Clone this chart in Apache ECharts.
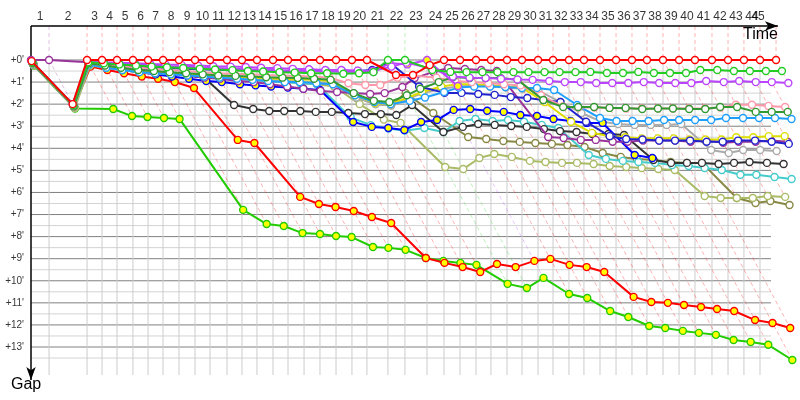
<!DOCTYPE html>
<html><head><meta charset="utf-8">
<script src="https://cdn.jsdelivr.net/npm/echarts@6/dist/echarts.min.js"></script>
<style>html,body{margin:0;padding:0;background:#fff}#c{width:800px;height:400px}</style>
</head><body><div id="c"></div>
<script>
// Leader's elapsed time (minutes) at the end of each lap, lap 0 = start
const lapTimes = [0,1.53,4.75,6.02,7.29,8.64,9.92,11.19,12.54,13.90,15.17,16.61,17.88,19.15,20.51,21.78,23.14,24.49,25.85,27.20,28.47,30.25,31.69,33.56,35.00,36.36,37.71,38.98,40.34,41.61,42.97,44.24,45.59,46.86,48.22,49.58,50.93,52.20,53.56,54.92,56.27,57.71,59.07,60.42,61.78,63.14];
const lapLabels = ['1','2','3','4','5','6','7','8','9','10','11','12','13','14','15','16','17','18','19','20','21','22','23','24','25','26','27','28','29','30','31','32','33','34','35','36','37','38','39','40','41','42','43','44','45'];
const yTicks = [0,1,2,3,4,5,6,7,8,9,10,11,12,13];
const yMinorTicks = [0.5,1.5,2.5,3.5,4.5,5.5,6.5,7.5,8.5,9.5,10.5,11.5,12.5,13.5];
const yTickLabels = yTicks.map(v => "+" + v + "'");

// Gap to leader (minutes) per lap, index = lap number (0 = start)
const gapRed = [0.05,2.0,0,0,0,0,0,0,0,0,0,0,0,0,0,0,0,0,0,0,0,0.68,0.68,0.23,0,0,0,0,0,0,0,0,0,0,0,0,0,0,0,0,0,0,0,0,0,0];
const gapGreen = [0.1,2.05,0.1,0.15,0.2,0.25,0.3,0.33,0.36,0.4,0.43,0.46,0.5,0.52,0.55,0.57,0.6,0.6,0.62,0.6,0.55,0,0,0.45,0.54,0.55,0.55,0.55,0.55,0.55,0.55,0.55,0.55,0.54,0.59,0.59,0.54,0.59,0.59,0.59,0.45,0.45,0.5,0.5,0.5,0.5];
const gapViolet = [0.04,2.0,0.05,0.1,0.12,0.15,0.18,0.2,0.22,0.25,0.28,0.3,0.32,0.35,0.37,0.4,0.42,0.45,0.45,0.48,0.5,0.3,0.12,0.4,0.75,0.8,0.82,0.85,0.88,0.9,0.95,1.0,1.0,1.04,1.04,1.04,1.0,1.04,1.04,1.04,0.95,1.0,0.95,1.0,1.0,1.04];
const gapViolet2 = [0.08,2.05,0.08,0.12,0.16,0.2,0.24,0.28,0.3,0.33,0.36,0.4,0.42,0.45,0.47,0.5,0.5,0.52,0.53,0.54,0.55,0.14,0.2,0,1.18];
const gapPink = [0.15,2.1,0.15,0.25,0.3,0.35,0.4,0.45,0.5,0.55,0.6,0.62,0.65,0.68,0.7,0.72,0.75,0.8,1.05,1.13,1.13,0.8,0.7,0.8,0.95,1.0,1.05,1.1,1.15,1.6,2.1,2.15,2.15,2.17,2.2,2.2,2.2,2.2,2.2,2.2,2.15,2.03,2.03,2.08,2.13];
const gapDarkGreen = [0.14,2.1,0.15,0.25,0.35,0.45,0.5,0.55,0.6,0.65,0.7,0.72,0.75,0.78,0.8,0.82,0.85,0.9,1.5,1.85,1.9,1.6,1.3,1.0,0.77,0.82,0.82,0.82,0.9,1.81,2.13,2.13,2.13,2.17,2.17,2.22,2.2,2.2,2.22,2.22,2.13,2.13,2.35,2.35,2.35];
const gapLightBlue = [0.16,2.1,0.2,0.35,0.45,0.55,0.6,0.65,0.7,0.75,0.8,0.85,0.9,0.95,1.0,1.0,1.05,1.1,1.6,1.9,2.0,1.85,1.7,1.45,1.25,1.2,1.2,1.22,1.27,1.27,1.36,2.04,2.63,2.76,2.76,2.76,2.72,2.72,2.72,2.72,2.63,2.63,2.63,2.63,2.67];
const gapYellow = [0.18,2.12,0.2,0.3,0.45,0.55,0.6,0.63,0.66,0.68,0.7,0.75,0.8,0.83,0.86,0.88,0.9,0.95,1.6,1.95,2.0,1.7,1.45,1.2,1.1,1.1,1.15,1.2,1.25,1.9,2.8,3.3,3.45,3.5,3.55,3.55,3.55,3.6,3.6,3.6,3.5,3.5,3.45,3.45];
const gapPurple = [0,0,0.1,0.2,0.3,0.4,0.5,0.6,0.7,0.8,0.85,0.95,1.0,1.1,1.2,1.3,1.4,1.45,1.5,1.54,1.5,1.22,0.82,0.54,0.36,0.41,0.45,0.5,3.49,3.53,3.62,3.62,3.7,3.7,3.65,3.65,3.65,3.7,3.65,3.75,3.7,3.7,3.65,3.7];
const gapBlue = [0.12,2.08,0.12,0.2,0.25,0.3,0.33,0.36,0.4,0.42,0.44,0.46,0.47,0.48,0.49,0.5,0.5,0.5,0.5,0.5,0.45,0.09,1.2,1.49,1.49,1.54,1.58,1.68,1.72,1.81,1.9,2.8,3.45,3.58,3.6,3.65,3.65,3.65,3.7,3.7,3.65,3.65,3.7,3.8];
const gapGrey = [0.2,2.15,0.2,0.3,0.4,0.5,0.55,0.6,0.65,0.7,0.75,0.8,0.85,0.9,0.95,1.0,1.05,1.1,1.7,2.0,2.05,1.75,1.5,1.3,1.2,1.15,1.2,1.25,1.3,1.4,1.9,2.4,2.8,2.9,2.94,2.94,2.94,2.9,4.08,4.21,4.08,4.08,4.12];
const gapBlack = [0.15,2.1,0.15,0.3,0.4,0.5,0.55,0.6,0.7,0.8,2.04,2.22,2.31,2.31,2.31,2.35,2.35,2.4,2.45,2.45,2.49,2.04,3.26,3.03,2.9,2.94,2.99,3.03,3.13,3.22,3.26,3.35,3.35,3.4,4.53,4.66,4.66,4.66,4.71,4.66,4.62,4.66,4.71];
const gapCyan = [0.2,2.12,0.2,0.35,0.45,0.55,0.6,0.65,0.7,0.75,0.8,0.85,0.9,0.95,1.0,1.05,1.1,2.6,2.95,3.1,3.2,3.08,3.26,2.76,2.67,2.76,2.72,2.8,2.94,3.08,4.3,4.48,4.57,4.62,4.66,4.76,4.8,4.89,4.98,5.2,5.2,5.3,5.39];
const gapLightOlive = [0.24,2.18,0.25,0.35,0.45,0.55,0.6,0.65,0.7,0.75,0.8,0.85,0.9,0.95,1.0,1.05,1.1,1.2,2.0,2.7,2.85,4.85,4.94,4.44,4.26,4.39,4.57,4.62,4.66,4.66,4.71,4.8,4.85,4.89,4.94,4.98,6.16,6.25,6.25,6.25,6.16,6.2];
const gapOlive = [0.22,2.15,0.2,0.3,0.4,0.5,0.55,0.6,0.65,0.7,0.75,0.8,0.85,0.9,0.95,1.0,1.05,1.1,1.7,2.0,2.05,1.5,2.4,3.49,3.58,3.67,3.71,3.76,3.8,3.85,3.94,4.21,4.39,4.48,4.53,4.62,4.66,4.66,6.25,6.48,6.39,6.57];
const gapBlue2 = [0.18,2.1,0.15,0.3,0.45,0.55,0.65,0.75,0.85,0.95,1.0,1.1,1.15,1.2,1.25,1.3,1.36,2.81,3.03,3.08,3.17,2.81,2.72,2.26,2.22,2.3,2.35,2.49,2.54,2.67,2.76,2.85,2.85,4.3,4.44];
const gapRed2 = [0.2,2.1,0.3,0.45,0.6,0.75,0.85,1.0,1.27,3.62,3.76,6.2,6.52,6.66,6.84,7.11,7.38,8.97,9.19,9.38,9.6,9.24,9.38,9.1,9.01,9.28,9.38,9.6,10.73,10.96,11.0,11.1,11.19,11.28,11.37,11.78,11.91,12.14];
const gapGreen2 = [0.25,2.2,2.22,2.54,2.58,2.63,2.67,6.79,7.43,7.52,7.84,7.88,7.97,8.02,8.47,8.51,8.6,8.97,9.1,9.19,9.28,10.14,10.33,9.87,10.6,10.78,11.37,11.64,12.05,12.14,12.27,12.36,12.45,12.68,12.77,12.9,13.59];

// drawing order: first is at the bottom
const cars = [
  {gaps: gapGreen2, color:'#22cc00', fill:'#ffff00'},
  {gaps: gapRed2, color:'#ff0000', fill:'#ffff00'},
  {gaps: gapOlive, color:'#888844', fill:'#ffffff'},
  {gaps: gapLightOlive, color:'#aabb66', fill:'#ffffff'},
  {gaps: gapCyan, color:'#44cccc', fill:'#ffffff'},
  {gaps: gapBlack, color:'#333333', fill:'#ffffff'},
  {gaps: gapGrey, color:'#aaaaaa', fill:'#ffffff'},
  {gaps: gapBlue2, color:'#0000ff', fill:'#ffff00'},
  {gaps: gapPurple, color:'#993399', fill:'#ffffff'},
  {gaps: gapYellow, color:'#dddd00', fill:'#ffffff'},
  {gaps: gapBlue, color:'#2222cc', fill:'#ffffff'},
  {gaps: gapLightBlue, color:'#1e9fff', fill:'#ffffff'},
  {gaps: gapPink, color:'#ff99aa', fill:'#ffffff'},
  {gaps: gapDarkGreen, color:'#339933', fill:'#ffffff'},
  {gaps: gapViolet2, color:'#bb44ff', fill:'#ffff00'},
  {gaps: gapViolet, color:'#bb44ff', fill:'#ffffff'},
  {gaps: gapGreen, color:'#22cc22', fill:'#ffffff'},
  {gaps: gapRed, color:'#ff0000', fill:'#ffffff'}
];

// scale: grid spans the full width to the right edge; rules stop earlier
const yMin = -1.54, yMax = 14.54, gridYMax = 14.27;
const xMax = 65.17, gridXMax = 62.71, axisXEnd = 63.3;

function fade(hex, a){
  const n = parseInt(hex.slice(1),16);
  return 'rgba(' + (n>>16) + ',' + ((n>>8)&255) + ',' + (n&255) + ',' + a + ')';
}
function seg(p1, p2, style, z){
  return {type:'line', data:[p1,p2], symbol:'none', silent:true, animation:false, z: z, lineStyle: style};
}

const series = [];
// horizontal grid
yMinorTicks.forEach(v => series.push(seg([0,v],[gridXMax,v],{color:'#d4d4d4',width:1},1)));
yTicks.forEach(v => series.push(seg([0,v],[gridXMax,v],{color:'#808080',width:1},1)));

// per-lap lines
for (let k = 1; k < lapTimes.length; k++) {
  let leader = null, lead = Infinity, gmax = 0;
  cars.forEach(c => {
    const g = c.gaps[k];
    if (g === undefined || g === null) return;
    if (g < lead) { lead = g; leader = c; }
    if (g > gmax) gmax = g;
  });
  const T = lapTimes[k];
  if (T <= gridXMax) series.push(seg([T,0],[T,gridYMax],{color:'#cccccc',width:1},1));
  series.push(seg([T,yMin],[T,0],{color:fade(leader.color,0.3),width:1,type:[4,3]},2));
  series.push(seg([T,0],[T+gmax,gmax],{color:fade(leader.color,0.3),width:1,type:[4,3]},2));
}

// cars
cars.forEach((c, i) => {
  series.push({
    type:'line', animation:false, z: 10 + i,
    data: c.gaps.map((g,k) => [lapTimes[k] + g, g]),
    symbol:'circle', symbolSize:7, showAllSymbol:true,
    lineStyle:{color:c.color, width:2},
    itemStyle:{color:c.fill, borderColor:c.color, borderWidth:1.4}
  });
});

// axes with arrows
series.push({
  type:'line', data:[], silent:true, animation:false, z:40,
  markLine:{silent:true, animation:false, symbol:['none','arrow'], symbolSize:[7,13], label:{show:false},
    lineStyle:{color:'#000', width:1.5, type:'solid'},
    data:[
      [{coord:[0,yMin]},{coord:[axisXEnd,yMin]}],
      [{coord:[0,yMin]},{coord:[0,yMax - 0.05]}]
    ]}
});

// lap labels (centered on each lap interval)
series.push({
  type:'scatter', animation:false, silent:true, z:30, symbolSize:0,
  data: lapLabels.map((lab,i) => [Math.min((lapTimes[i] + lapTimes[i+1]) / 2, gridXMax - 1.1), yMin]),
  label:{show:true, position:'top', distance:3, color:'#000', fontFamily:'Liberation Sans', fontSize:12,
    formatter: p => lapLabels[p.dataIndex]}
});
// gap tick labels
series.push({
  type:'scatter', animation:false, silent:true, z:30, symbolSize:0,
  data: yTicks.map(v => [0, v]),
  label:{show:true, position:'left', distance:7, color:'#000', fontFamily:'Liberation Sans', fontSize:10,
    formatter: p => yTickLabels[p.dataIndex]}
});

const chart = echarts.init(document.getElementById('c'), null, {renderer:'canvas'});
chart.setOption({
  animation:false,
  backgroundColor:'#ffffff',
  grid:{left:31, right:0, top:26, bottom:19, containLabel:false},
  xAxis:{type:'value', min:0, max:xMax, show:true,
    axisLine:{show:false}, axisTick:{show:false}, axisLabel:{show:false}, splitLine:{show:false}},
  yAxis:{type:'value', min:yMin, max:yMax, inverse:true,
    axisLine:{show:false}, axisTick:{show:false}, axisLabel:{show:false}, splitLine:{show:false}},
  graphic:[
    {type:'text', left:743, top:27, style:{text:'Time', fill:'#000', font:'16px "Liberation Sans"'}},
    {type:'text', left:11, top:377, style:{text:'Gap', fill:'#000', font:'16px "Liberation Sans"'}}
  ],
  series: series
});
</script>
</body></html>
